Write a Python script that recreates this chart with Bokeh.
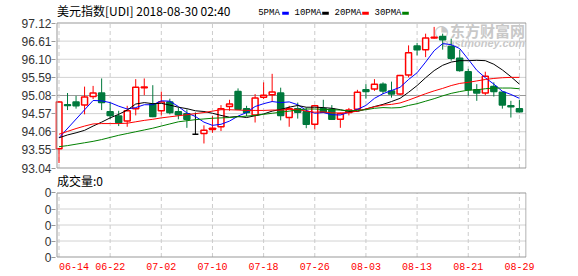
from bokeh.plotting import figure
from bokeh.models import FixedTicker, Label, ColumnDataSource, BoxAnnotation
from bokeh.embed import file_html
from bokeh.resources import INLINE

# ---------------- data ----------------
opens = [93.58, 94.82, 94.90, 94.81, 95.05, 95.15, 94.62, 94.50, 94.36, 94.71,
         95.30, 94.84, 94.65, 94.90, 94.62, 94.57, 93.99, 94.01, 94.12, 94.20,
         94.77, 95.19, 94.71, 94.53, 95.03, 95.10, 95.15, 94.46, 94.71, 94.62,
         94.27, 94.71, 94.69, 94.41, 94.60, 94.69, 95.24, 95.26, 95.40, 95.21,
         95.12, 95.66, 96.47, 96.37, 96.70, 96.74, 96.46, 96.13, 95.75, 95.24,
         95.15, 95.33, 95.17, 94.79, 94.71]
highs = [94.92, 95.15, 95.07, 95.33, 95.35, 95.56, 94.88, 94.65, 94.79, 95.54,
         95.56, 95.37, 95.19, 94.99, 94.74, 94.69, 94.60, 94.24, 94.50, 94.81,
         94.96, 95.28, 94.79, 95.12, 95.45, 95.69, 95.30, 94.79, 94.88, 94.74,
         94.81, 94.96, 94.81, 94.60, 94.73, 95.24, 95.40, 95.54, 95.45, 95.47,
         95.66, 96.49, 96.56, 96.82, 97.01, 96.82, 96.68, 96.37, 95.83, 95.40,
         95.75, 95.45, 95.19, 94.93, 94.96]
lows = [93.18, 94.67, 94.71, 94.55, 94.98, 94.67, 94.41, 94.22, 94.20, 94.52,
        95.09, 94.47, 94.52, 94.55, 94.41, 94.17, 93.99, 93.73, 94.03, 94.08,
        94.65, 94.68, 94.50, 94.32, 94.98, 94.90, 94.38, 94.20, 94.43, 94.16,
        94.13, 94.60, 94.39, 94.17, 94.52, 94.67, 94.99, 95.21, 95.12, 95.02,
        95.09, 95.59, 96.21, 96.16, 96.68, 96.37, 96.06, 95.75, 95.07, 94.93,
        95.09, 95.05, 94.71, 94.46, 94.60]
closes = [94.90, 94.80, 94.79, 95.04, 95.15, 94.88, 94.52, 94.32, 94.65, 95.31,
          95.32, 94.49, 94.90, 94.60, 94.54, 94.41, 93.99, 94.10, 94.16, 94.71,
          94.84, 94.69, 94.60, 95.01, 95.09, 95.18, 94.52, 94.71, 94.61, 94.27,
          94.79, 94.61, 94.41, 94.57, 94.67, 95.17, 95.19, 95.40, 95.21, 95.12,
          95.64, 96.28, 96.37, 96.70, 96.72, 96.65, 96.13, 95.78, 95.24, 95.15,
          95.62, 95.19, 94.81, 94.76, 94.62]

ma5 = [93.89, None, None, None, 94.94, 94.93, 94.88, 94.78, 94.70, 94.74,
       94.82, 94.82, 94.93, 94.92, 94.77, 94.59, 94.49, 94.33, 94.24, 94.27,
       94.36, 94.50, 94.60, 94.77, 94.85, 94.91, 94.88, 94.90, 94.82, 94.66,
       94.58, 94.60, 94.54, 94.53, 94.61, 94.69, 94.80, 95.00, 95.13, 95.22,
       95.31, 95.53, 95.72, 96.02, 96.34, 96.54, 96.51, 96.40, 96.10, 95.79,
       95.58, 95.40, 95.20, 95.11, 95.00]
ma10 = [93.89, 93.97, 94.03, 94.10, 94.22, 94.33, 94.45, 94.55, 94.67, 94.84,
        94.88, 94.85, 94.86, 94.81, 94.75, 94.71, 94.65, 94.63, 94.58, 94.52,
        94.47, 94.49, 94.46, 94.51, 94.56, 94.64, 94.69, 94.75, 94.80, 94.75,
        94.75, 94.74, 94.72, 94.68, 94.63, 94.63, 94.70, 94.77, 94.83, 94.91,
        95.00, 95.17, 95.36, 95.58, 95.78, 95.93, 96.02, 96.06, 96.06, 96.07,
        96.06, 95.96, 95.80, 95.61, 95.40]
ma20 = [93.99, 94.07, 94.15, 94.22, 94.28, 94.29, 94.29, 94.29, 94.30, 94.34,
        94.38, 94.41, 94.45, 94.48, 94.51, 94.54, 94.57, 94.60, 94.64, 94.68,
        94.68, 94.67, 94.66, 94.66, 94.66, 94.67, 94.67, 94.69, 94.69, 94.64,
        94.61, 94.62, 94.59, 94.59, 94.60, 94.64, 94.70, 94.76, 94.81, 94.83,
        94.87, 94.95, 95.04, 95.13, 95.21, 95.28, 95.36, 95.42, 95.45, 95.49,
        95.53, 95.56, 95.58, 95.59, 95.59]
ma30 = [93.64, 93.67, 93.71, 93.75, 93.79, 93.84, 93.90, 93.96, 94.01, 94.06,
        94.11, 94.16, 94.22, 94.28, 94.34, 94.37, 94.40, 94.42, 94.44, 94.45,
        94.46, 94.48, 94.50, 94.52, 94.55, 94.58, 94.61, 94.64, 94.67, 94.70,
        94.70, 94.69, 94.68, 94.67, 94.65, 94.66, 94.68, 94.72, 94.74, 94.73,
        94.74, 94.80, 94.85, 94.92, 94.99, 95.07, 95.14, 95.19, 95.23, 95.24,
        95.27, 95.29, 95.29, 95.29, 95.27]

tick_idx = [0, 6, 12, 18, 24, 30, 36, 42, 48, 54]
tick_labels = ["06-14", "06-22", "07-02", "07-10", "07-18", "07-26",
               "08-03", "08-13", "08-21", "08-29"]
y_ticks = [93.04, 93.55, 94.06, 94.57, 95.08, 95.59, 96.10, 96.61, 97.12]
y_labels = ["93.04", "93.55", "94.06", "94.57", "95.08", "95.59", "96.10", "96.61", "97.12"]
vol_ticks = [0, 1, 2, 3, 4]
vol_labels = ["0", "0", "0", "0", "0"]

title_text = "美元指数[UDI] 2018-08-30 02:40"
vol_title = "成交量:0"
ma_names = ["5PMA", "10PMA", "20PMA", "30PMA"]
ma_colors = ["#0000ff", "#000000", "#ff0000", "#008000"]

RED = "#ff0000"
GREEN = "#00783c"
AXIS_FONT = "Liberation Sans"
CJK = "Noto Sans CJK SC"
BOX = "#999999"
GRID = "#d2d2d2"
WM = "#c8c8c8"

# ---------------- layout constants (canvas pixels) ----------------
W, H = 578, 276
FL, FR, FB = 55, 526, 258           # frame left / right / bottom (top = 0)
BL, BR = 56.5, 525.5                # panel box left / right
X0PX, DX = 58.5, 8.526              # pixel of first candle, px per candle
BT1, BB1 = 22.5, 167.5              # price box top / bottom
BT2, BB2 = 192.5, 256.5             # volume box top / bottom

x_start = (FL - X0PX) / DX
x_end = (FR - X0PX) / DX
xb0 = (BL - X0PX) / DX
xb1 = (BR - X0PX) / DX

ppu = (BB1 - BT1) / (y_ticks[-1] - y_ticks[0])
y_start = y_ticks[0] - (FB - BB1) / ppu
y_end = y_ticks[0] + BB1 / ppu

vppu = (BB2 - BT2) / (vol_ticks[-1] - vol_ticks[0])


def vol_to_main(v):
    px = BB2 - (v - vol_ticks[0]) * vppu
    return round(y_ticks[0] + (BB1 - px) / ppu, 6)


vol_pos = [vol_to_main(v) for v in vol_ticks]

p = figure(width=W, height=H, x_range=(x_start, x_end), y_range=(y_start, y_end),
           output_backend="svg", toolbar_location=None,
           min_border_left=FL, min_border_right=W - FR, min_border_top=0,
           min_border_bottom=H - FB)
p.background_fill_color = "white"
p.border_fill_color = "white"
p.outline_line_color = None
p.xgrid.visible = False
p.ygrid.visible = False

ax = p.yaxis[0]
ax.ticker = FixedTicker(ticks=y_ticks + vol_pos)
ovr = {v: s for v, s in zip(y_ticks, y_labels)}
ovr.update({v: s for v, s in zip(vol_pos, vol_labels)})
ax.major_label_overrides = ovr
ax.axis_line_color = None
ax.major_tick_line_color = BOX
ax.major_tick_out = 4
ax.major_tick_in = 0
ax.minor_tick_line_color = None
ax.major_label_standoff = 0
ax.major_label_text_font = AXIS_FONT
ax.major_label_text_font_size = "12px"
ax.major_label_text_color = "#333333"

xa = p.xaxis[0]
xa.ticker = FixedTicker(ticks=tick_idx)
over = {t: l for t, l in zip(tick_idx, tick_labels)}
over[tick_idx[0]] = "\u00a0" * 5 + tick_labels[0]
xa.major_label_overrides = over
xa.axis_line_color = None
xa.major_tick_out = 0
xa.major_tick_in = 0
xa.minor_tick_line_color = None
xa.major_tick_line_color = None
xa.major_label_standoff = 3
xa.major_label_text_font = "Liberation Mono"
xa.major_label_text_font_size = "10px"
xa.major_label_text_color = RED

# price panel grid
inner = y_ticks[1:-1]
p.segment(x0=[xb0] * len(inner), y0=inner, x1=[xb1] * len(inner), y1=inner,
          line_color=[BOX if v == y_ticks[4] else GRID for v in inner], line_width=1)
p.segment(x0=tick_idx, y0=[y_ticks[0]] * len(tick_idx), x1=tick_idx,
          y1=[y_ticks[-1]] * len(tick_idx), line_color="#cccccc", line_dash="4 3", line_width=1)

# volume panel grid
vin = vol_pos[1:-1]
p.segment(x0=[xb0] * len(vin), y0=vin, x1=[xb1] * len(vin), y1=vin,
          line_color=GRID, line_width=1)
p.segment(x0=tick_idx, y0=[vol_pos[0]] * len(tick_idx), x1=tick_idx,
          y1=[vol_pos[-1]] * len(tick_idx), line_color="#cccccc", line_dash="4 3", line_width=1)

# watermark (logo swirl + brand text)
p.add_layout(Label(x=441 - FL, y=FB - 30, x_units="screen", y_units="screen", text="◔",
                   text_font="DejaVu Sans", text_font_size="17px", text_align="center",
                   text_baseline="middle", text_color=WM, level="underlay"))
p.add_layout(Label(x=BR - FL - 1, y=FB - 30, x_units="screen", y_units="screen", text="东方财富网",
                   text_font=CJK, text_font_size="15px", text_font_style="bold",
                   text_align="right", text_baseline="middle", text_color=WM,
                   level="underlay"))
p.add_layout(Label(x=BR - FL - 1, y=FB - 42, x_units="screen", y_units="screen",
                   text="eastmoney.com", text_font="Liberation Sans", text_font_size="11px",
                   text_font_style="bold italic", text_align="right", text_baseline="middle",
                   text_color=WM, level="underlay"))

# candles
xs = list(range(len(closes)))
cols, fills, tops, bots = [], [], [], []
for o, c in zip(opens, closes):
    if c > o:
        cols.append(RED); fills.append("white")
    elif c < o:
        cols.append(GREEN); fills.append(GREEN)
    else:
        cols.append("#000000"); fills.append("#000000")
    tops.append(max(o, c)); bots.append(min(o, c))

src = ColumnDataSource(dict(x=xs, high=highs, low=lows, top=tops, bot=bots, col=cols, fill=fills))
p.segment(x0="x", y0="low", x1="x", y1="high", line_color="col", line_width=1, source=src)
p.vbar(x="x", width=0.7, top="top", bottom="bot", fill_color="fill", line_color="col",
       line_width=1.5, source=src)

for series, colr in zip([ma5, ma10, ma20, ma30], ma_colors):
    px = [i for i, v in enumerate(series) if v is not None]
    py = [v for v in series if v is not None]
    p.line(px, py, line_color=colr, line_width=1)

# panel boxes
p.quad(left=[xb0, xb0], right=[xb1, xb1], bottom=[y_ticks[0], vol_pos[0]],
       top=[y_ticks[-1], vol_pos[-1]], fill_color=None, line_color=BOX, line_width=1)

# title row and legend
p.add_layout(Label(x=1.5, y=FB - 10, x_units="screen", y_units="screen", text=title_text,
                   text_font=CJK, text_font_size="12px", text_baseline="middle",
                   text_color="#000000"))
leg_x = [257.7, 294.0, 334.0, 374.0]
sw_off = [24.0, 27.7, 27.7, 27.7]
for name, colr, lx, off in zip(ma_names, ma_colors, leg_x, sw_off):
    p.add_layout(Label(x=lx - FL, y=FB - 12.7, x_units="screen", y_units="screen", text=name,
                       text_font="Liberation Mono", text_font_size="9px",
                       text_baseline="middle", text_color="#000000"))
    p.add_layout(BoxAnnotation(left=lx - FL + off, right=lx - FL + off + 6.6,
                               bottom=FB - 14.2, top=FB - 11.2,
                               left_units="screen", right_units="screen",
                               top_units="screen", bottom_units="screen",
                               fill_color=colr, fill_alpha=1, line_color=None))

# volume title
p.add_layout(Label(x=1.5, y=FB - 179.5, x_units="screen", y_units="screen", text=vol_title,
                   text_font=CJK, text_font_size="12px", text_baseline="middle",
                   text_color="#000000"))

open("out.html", "w").write(file_html(p, INLINE))
